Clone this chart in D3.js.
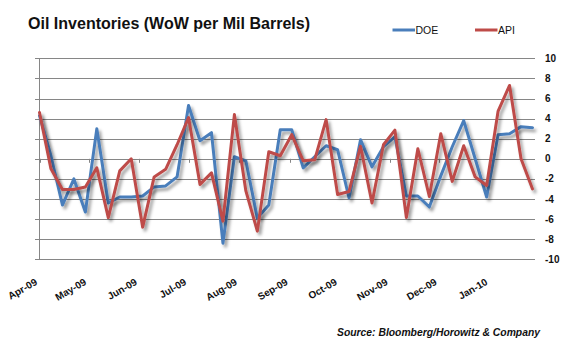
<!DOCTYPE html>
<html><head><meta charset="utf-8">
<script src="https://cdn.jsdelivr.net/npm/d3@7"></script>
<style>body{margin:0;background:#fff}svg{display:block}</style>
</head><body>
<svg id="chart" width="588" height="343"></svg>
<script>
const dates = ["2009-04-01","2009-04-08","2009-04-15","2009-04-22","2009-04-29",
"2009-05-06","2009-05-13","2009-05-20","2009-05-27",
"2009-06-03","2009-06-10","2009-06-17","2009-06-24",
"2009-07-01","2009-07-08","2009-07-15","2009-07-22","2009-07-29",
"2009-08-05","2009-08-12","2009-08-19","2009-08-26",
"2009-09-02","2009-09-09","2009-09-16","2009-09-23","2009-09-30",
"2009-10-07","2009-10-14","2009-10-21","2009-10-28",
"2009-11-04","2009-11-11","2009-11-18","2009-11-25",
"2009-12-02","2009-12-09","2009-12-16","2009-12-23","2009-12-30",
"2010-01-06","2010-01-13","2010-01-20","2010-01-27"];
const doe = [4.3,0.3,-4.6,-2.0,-5.3,3.0,-4.4,-3.8,-3.8,-3.7,-2.8,-2.7,-1.8,5.3,1.8,2.6,-8.4,0.2,-0.2,-5.9,-4.6,2.9,2.9,-0.9,0.2,1.3,0.9,-3.9,1.9,-0.8,1.2,2.2,-3.7,-3.7,-4.8,-1.7,1.2,3.8,0.0,-3.8,2.4,2.5,3.2,3.1];
const api = [4.6,-1.0,-3.05,-3.05,-2.8,-0.9,-5.85,-1.2,0.0,-6.8,-1.8,-1.05,1.4,4.1,-2.55,-1.4,-6.2,4.4,-3.2,-7.2,0.7,0.3,2.4,-0.2,-0.1,3.9,-3.55,-3.25,1.25,-4.4,1.4,2.85,-5.85,1.0,-3.75,2.5,-2.25,1.3,-1.8,-2.65,4.75,7.3,0.0,-3.0];
const yTicks = [10,8,6,4,2,0,-2,-4,-6,-8,-10];
const seriesNames = ["DOE","API"];
const colors = {DOE:"#4a7ebb", API:"#be4b48"};

const parse = d3.timeParse("%Y-%m-%d");
const dts = dates.map(parse);
const svg = d3.select("#chart");
const x = d3.scaleTime().domain(d3.extent(dts)).range([39.5, 532.5]);
const y = d3.scaleLinear().domain([-10,10]).range([259.3, 58.3]);
const txt = "#111";

const defs = svg.append("defs");
const f = defs.append("filter").attr("id","sh").attr("x","-10%").attr("y","-10%").attr("width","130%").attr("height","130%");
f.append("feDropShadow").attr("dx",2.5).attr("dy",3).attr("stdDeviation",1.6).attr("flood-color","#000").attr("flood-opacity",0.38);

// gridlines
svg.append("g").selectAll("line").data(yTicks).join("line")
  .attr("x1",35).attr("x2",535)
  .attr("y1",d=>Math.round(y(d))+0.5).attr("y2",d=>Math.round(y(d))+0.5)
  .attr("stroke","#868686").attr("stroke-width",1);
// left axis line
svg.append("line").attr("x1",39.5).attr("x2",39.5).attr("y1",y(10)).attr("y2",y(-10)+0.5)
  .attr("stroke","#868686").attr("stroke-width",1);

// y labels on right
svg.append("g").selectAll("text").data(yTicks).join("text")
  .attr("x",545).attr("y",d=>y(d)).attr("dy","0.35em")
  .attr("font-family","Liberation Sans, Arial, sans-serif").attr("font-weight","bold")
  .attr("font-size",10).attr("fill",txt).text(d=>d);

// month ticks on zero line
const months = d3.timeMonth.range(d3.timeMonth.ceil(dts[0]), dts[dts.length-1]);
svg.append("g").selectAll("line").data(months).join("line")
  .attr("x1",d=>Math.round(x(d))+0.5).attr("x2",d=>Math.round(x(d))+0.5)
  .attr("y1",y(0)).attr("y2",y(0)+4).attr("stroke","#868686");

const fmt = d3.timeFormat("%b-%y");
svg.append("g").selectAll("text").data(months).join("text")
  .attr("transform",d=>`translate(${x(d)-1.5},284) rotate(-30)`)
  .attr("text-anchor","end")
  .attr("font-family","Liberation Sans, Arial, sans-serif").attr("font-weight","bold")
  .attr("font-size",10).attr("fill",txt).text(d=>fmt(d));

// lines
const line = d3.line().x((d,i)=>x(dts[i])).y(d=>y(d));
const data = {DOE:doe, API:api};
seriesNames.forEach(n=>{
  svg.append("path").datum(data[n]).attr("d",line)
    .attr("fill","none").attr("stroke",colors[n]).attr("stroke-width",3)
    .attr("stroke-linejoin","round").attr("stroke-linecap","round")
    .attr("filter","url(#sh)");
});

// title
svg.append("text").attr("x",28).attr("y",29)
  .attr("font-family","Liberation Sans, Arial, sans-serif").attr("font-weight","bold")
  .attr("font-size",16).attr("fill",txt)
  .attr("textLength",282).attr("lengthAdjust","spacingAndGlyphs")
  .text("Oil Inventories (WoW per Mil Barrels)");

// legend
const leg = [{n:"DOE",x:392.5},{n:"API",x:475}];
leg.forEach(l=>{
  svg.append("line").attr("x1",l.x).attr("x2",l.x+22.5).attr("y1",30).attr("y2",30)
    .attr("stroke",colors[l.n]).attr("stroke-width",3);
  svg.append("text").attr("x",l.x+23).attr("y",33.5)
    .attr("font-family","Liberation Sans, Arial, sans-serif")
    .attr("font-size",10.5).attr("fill",txt).text(l.n);
});

// source
svg.append("text").attr("x",337).attr("y",335.5)
  .attr("font-family","Liberation Sans, Arial, sans-serif").attr("font-weight","bold")
  .attr("font-style","italic").attr("font-size",11).attr("fill",txt)
  .attr("textLength",203).attr("lengthAdjust","spacingAndGlyphs")
  .text("Source: Bloomberg/Horowitz & Company");
</script>
</body></html>
